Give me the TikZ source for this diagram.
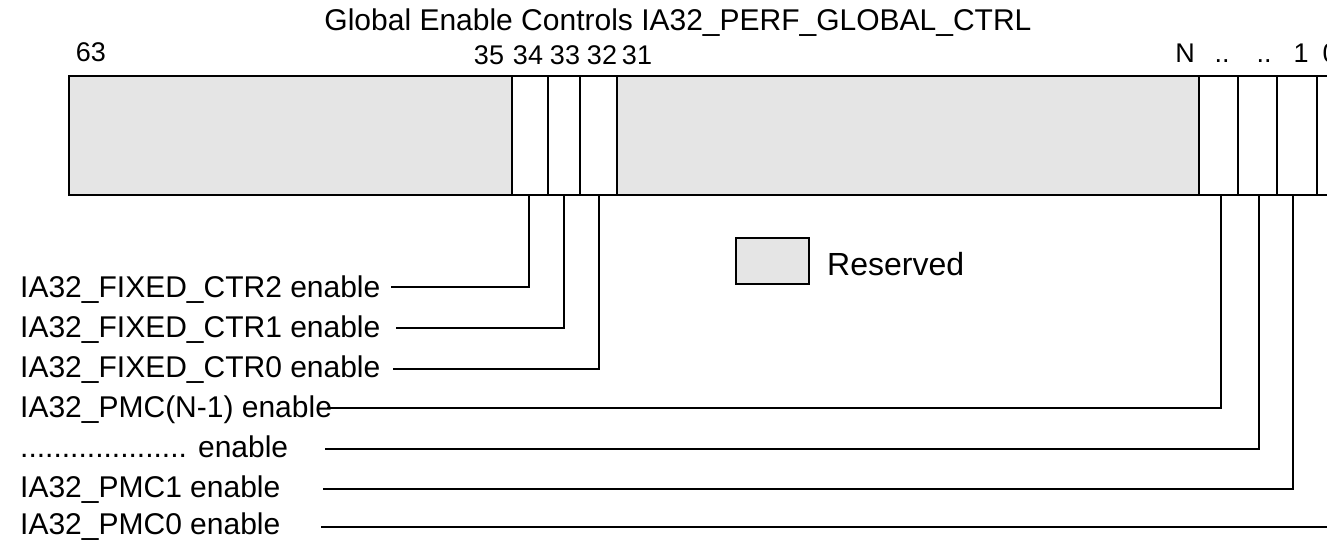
\documentclass[tikz,border=0pt]{standalone}
\usepackage{fontspec}
\setmainfont{Liberation Sans}
\definecolor{resgray}{HTML}{E5E5E5}
\begin{document}
\begin{tikzpicture}[x=1pt,y=-1pt,
  cellbox/.style={draw=black, line width=2pt, inner sep=0pt, minimum height=119pt},
  graycell/.style={cellbox, fill=resgray},
  whitecell/.style={cellbox, fill=white},
  lab/.style={font=\fontsize{30}{36}\selectfont, inner sep=0pt, anchor=base west},
  bitnum/.style={font=\fontsize{27}{32}\selectfont, inner sep=0pt, anchor=base},
  conn/.style={draw=black, line width=2pt}
]
\useasboundingbox (0,0) rectangle (1327,539);
\clip (0,0) rectangle (1327,539);
\fill[white] (0,0) rectangle (1327,539);

% title
\node[font=\fontsize{30}{36}\selectfont, inner sep=0pt, anchor=base] (title) at (678,30) {Global Enable Controls IA32\_PERF\_GLOBAL\_CTRL};

% register cells
\node[graycell, minimum width=443pt] (r63) at (290.5,135.5) {};
\node[whitecell, minimum width=36pt] (c34) at (530,135.5) {};
\node[whitecell, minimum width=32pt] (c33) at (564,135.5) {};
\node[whitecell, minimum width=37pt] (c32) at (598.5,135.5) {};
\node[graycell, minimum width=582pt] (r31) at (908,135.5) {};
\node[whitecell, minimum width=39pt] (cN1) at (1218.5,135.5) {};
\node[whitecell, minimum width=39pt] (cdd) at (1257.5,135.5) {};
\node[whitecell, minimum width=40pt] (c1) at (1297,135.5) {};
\node[whitecell, minimum width=43pt] (c0) at (1338.5,135.5) {};

% bit numbers
\node[bitnum] (b63) at (91,61) {63};
\node[bitnum] (b35) at (489,64) {35};
\node[bitnum] (b34) at (528,64) {34};
\node[bitnum] (b33) at (565,64) {33};
\node[bitnum] (b32) at (602,64) {32};
\node[bitnum] (b31) at (637,64) {31};
\node[bitnum] (bN) at (1185,62) {N};
\node[bitnum] (bd1) at (1222,62) {..};
\node[bitnum] (bd2) at (1264,62) {..};
\node[bitnum] (b1) at (1301,62) {1};
\node[bitnum] (b0) at (1330,62) {0};

% legend
\node[draw=black, line width=2pt, fill=resgray, minimum width=73pt, minimum height=46pt, inner sep=0pt] (leg) at (772.5,261) {};
\node[font=\fontsize{32}{38}\selectfont, inner sep=0pt, anchor=base west] (legtxt) at (827,275) {Reserved};

% labels
\node[lab] (l2) at (20,297) {IA32\_FIXED\_CTR2 enable};
\node[lab] (l1) at (20,337) {IA32\_FIXED\_CTR1 enable};
\node[lab] (l0) at (20,377) {IA32\_FIXED\_CTR0 enable};
\node[lab] (lN) at (20,417) {IA32\_PMC(N-1) enable};
\node[lab] (ld) at (20,457) {.................... enable};
\node[lab] (lp1) at (20,497) {IA32\_PMC1 enable};
\node[lab] (lp0) at (20,534) {IA32\_PMC0 enable};

% connector start points
\coordinate (s2) at (391,287);
\coordinate (s1) at (396,328);
\coordinate (s0) at (393,369);
\coordinate (sN) at (327,408);
\coordinate (sd) at (325,449);
\coordinate (sp1) at (323,489);
\coordinate (sp0) at (321,527);

% connectors
\draw[conn] (s2) -| ([xshift=-1pt]c34.south);
\draw[conn] (s1) -| (c33.south);
\draw[conn] (s0) -| (c32.south);
\draw[conn] (sN) -| ([xshift=2.5pt]cN1.south);
\draw[conn] (sd) -| ([xshift=1.5pt]cdd.south);
\draw[conn] (sp1) -| ([xshift=-4pt]c1.south);
\draw[conn] (sp0) -| (c0.south);
\end{tikzpicture}
\end{document}
